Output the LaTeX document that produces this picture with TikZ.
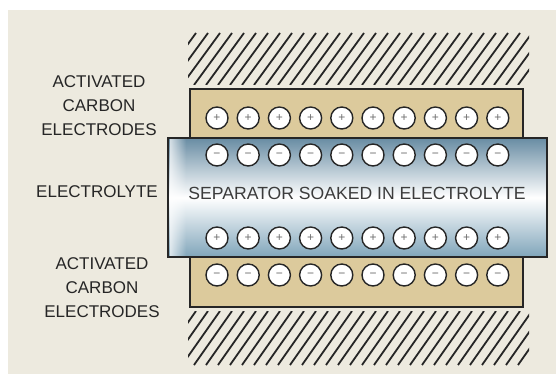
\documentclass[tikz,border=0pt]{standalone}
\usepackage{fontspec}
\setmainfont{Liberation Sans}
\usetikzlibrary{fadings}
\definecolor{panelbeige}{RGB}{237,234,223}
\definecolor{carbontan}{RGB}{220,202,156}
\definecolor{steeltop}{RGB}{104,140,163}
\definecolor{steelbot}{RGB}{128,165,186}
\definecolor{inkgray}{RGB}{38,38,38}
\definecolor{signgray}{RGB}{110,110,110}

\tikzset{
  ion/.style={circle,draw=inkgray,fill=white,line width=1.4pt,minimum size=22pt,inner sep=0pt,
    text=signgray,font=\fontsize{12}{12}\selectfont},
  sidelabel/.style={align=center,text=inkgray,font=\fontsize{17}{24}\selectfont},
  wallhatch/.style={inkgray,line width=1.8pt},
  platebox/.style={draw=inkgray,fill=carbontan,line width=1.2pt},
}

\begin{document}
\begin{tikzpicture}[x=1pt,y=-1pt]
  \useasboundingbox (0,0) rectangle (556,374);
  \fill[panelbeige] (8,10) rectangle (556,374);
  % hatched walls
  \foreach \ya/\yb in {33/85,311/365}{
    \begin{scope}
      \clip (188,\ya) rectangle (529,\yb);
      \foreach \x in {146,158,...,542}
        \draw[wallhatch] (\x,\yb) -- ({\x+38},\ya);
    \end{scope}
  }
  % carbon plates and separator
  \draw[platebox] (190,89) rectangle (523,150);
  \draw[platebox] (190,245) rectangle (523,307);
  \shade[top color=steeltop,bottom color=steelbot,middle color=white] (168,138) rectangle (547,257);
  \fill[white,opacity=0.7,path fading=east] (170,138) rectangle (186,257);
  \draw[inkgray,line width=1.2pt] (168,138) rectangle (547,257);
  \node[text=inkgray!90,font=\fontsize{17.6}{20}\selectfont] (septext) at (357,193) {SEPARATOR SOAKED IN ELECTROLYTE};
  % ions
  \foreach \i in {0,...,9}{
    \node[ion] (plustop\i) at ({217+31.2*\i},118) {+};
    \node[ion] (minustop\i) at ({217+31.2*\i},155) {−};
    \node[ion] (plusbot\i) at ({217+31.2*\i},238) {+};
    \node[ion] (minusbot\i) at ({217+31.2*\i},275) {−};
  }
  \node[sidelabel] (toplabel) at (99,106) {ACTIVATED\\CARBON\\ELECTRODES};
  \node[sidelabel] (midlabel) at (97,192) {ELECTROLYTE};
  \node[sidelabel] (botlabel) at (102,288) {ACTIVATED\\CARBON\\ELECTRODES};
\end{tikzpicture}
\end{document}
